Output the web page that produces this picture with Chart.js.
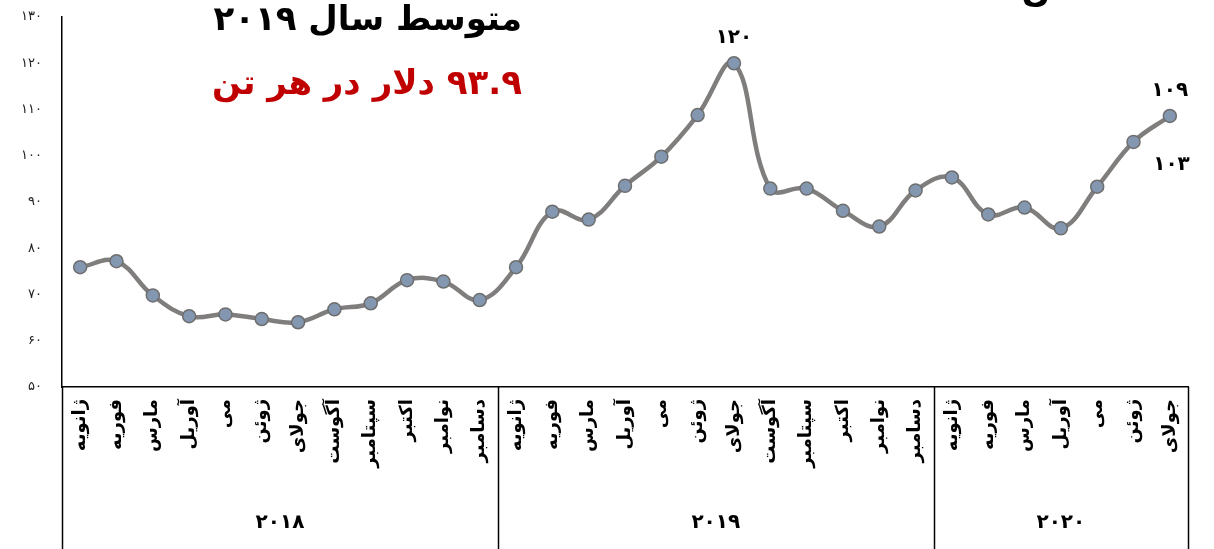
<!DOCTYPE html>
<html>
<head>
<meta charset="utf-8">
<script src="https://cdn.jsdelivr.net/npm/chart.js@4"></script>
<style>
  body { margin: 0; background: #fff; }
  #wrap { width: 1214px; height: 549px; position: relative; }
</style>
</head>
<body>
<div id="wrap"><canvas id="priceChart"></canvas></div>
<script>
// monthly average price, $ per tonne (Jan 2018 .. Jul 2020)
const months = ["ژانویه", "فوریه", "مارس", "آوریل", "می", "ژوئن", "جولای", "آگوست", "سپتامبر", "اکتبر", "نوامبر", "دسامبر"];
const years = ["۲۰۱۸", "۲۰۱۹", "۲۰۲۰"];
const monthsPerYear = [12, 12, 7];
const prices2018 = [75.9, 77.2, 69.8, 65.3, 65.7, 64.7, 64.0, 66.8, 68.1, 73.1, 72.8, 68.8];
const prices2019 = [75.9, 87.9, 86.2, 93.5, 99.8, 108.8, 120, 92.9, 92.9, 88.1, 84.7, 92.5];
const prices2020 = [95.3, 87.3, 88.8, 84.3, 93.3, 103, 108.6];
const yMin = 50, yMax = 130, yStep = 10;
const pointNotes = [[18, "۱۲۰"], [30, "۱۰۹"], [29, "۱۰۳"]];
const titleLine1 = "متوسط سال ۲۰۱۹";
const titleLine2 = "۹۳.۹ دلار در هر تن";

const faDigits = s => String(s).replace(/\d/g, d => "۰۱۲۳۴۵۶۷۸۹"[d]);
const FONT = "'DejaVu Sans', sans-serif";

const labels = [];
monthsPerYear.forEach(n => { for (let i = 0; i < n; i++) labels.push(months[i]); });
const prices = prices2018.concat(prices2019, prices2020);

// year groups, separators, titles, point labels
const extras = {
  id: "extras",
  afterDraw(chart) {
    const ctx = chart.ctx;
    const x = chart.scales.x;
    const area = chart.chartArea;
    const H = chart.height;
    ctx.save();

    // group separators below the axis
    const bounds = [area.left];
    let idx = 0;
    monthsPerYear.forEach((n, k) => {
      idx += n;
      if (k < monthsPerYear.length - 1) {
        bounds.push((x.getPixelForValue(idx - 1) + x.getPixelForValue(idx)) / 2);
      }
    });
    bounds.push(area.right);
    ctx.strokeStyle = "#000";
    ctx.lineWidth = 1.5;
    bounds.forEach(b => {
      ctx.beginPath();
      ctx.moveTo(Math.round(b) + 0.5, area.bottom);
      ctx.lineTo(Math.round(b) + 0.5, H);
      ctx.stroke();
    });

    ctx.fillStyle = "#000";
    ctx.font = "bold 20px " + FONT;
    ctx.textAlign = "center";
    ctx.textBaseline = "middle";
    years.forEach((yr, k) => {
      ctx.fillText(yr, (bounds[k] + bounds[k + 1]) / 2, area.bottom + 136);
    });

    // value notes
    const pts = chart.getDatasetMeta(0).data;
    ctx.font = "bold 20px " + FONT;
    pointNotes.forEach(([i, txt]) => {
      const p = pts[i];
      if (i === 29) {
        ctx.fillText(txt, p.x + 38, p.y + 23);
      } else {
        ctx.fillText(txt, p.x, p.y - 25);
      }
    });

    // headline
    ctx.direction = "rtl";
    ctx.textAlign = "right";
    ctx.font = "bold 34px " + FONT;
    ctx.fillStyle = "#000";
    ctx.fillText(titleLine1, 522, 21);
    ctx.fillStyle = "#C00000";
    ctx.fillText(titleLine2, 522, 85);

    // clipped piece of the outer heading
    ctx.fillStyle = "#000";
    ctx.textAlign = "center";
    ctx.fillText("ن", 1036, -8);
    ctx.restore();
  }
};

new Chart(document.getElementById("priceChart"), {
  type: "line",
  data: {
    labels: labels,
    datasets: [{
      data: prices,
      borderColor: "#807D7D",
      borderWidth: 4.5,
      tension: 0.4,
      pointRadius: 6.5,
      pointBackgroundColor: "#8497B0",
      pointBorderColor: "#6E6E6E",
      pointBorderWidth: 1.5,
      clip: false
    }]
  },
  options: {
    responsive: true,
    maintainAspectRatio: false,
    animation: false,
    layout: { padding: { top: 17, right: 26, left: 0, bottom: 0 } },
    plugins: { legend: { display: false }, tooltip: { enabled: false } },
    scales: {
      x: {
        offset: true,
        grid: { display: false },
        border: { color: "#000", width: 1.5 },
        ticks: {
          autoSkip: false,
          minRotation: 90,
          maxRotation: 90,
          padding: 4,
          color: "#000",
          font: { family: FONT, size: 18, weight: "bold" }
        },
        afterFit(scale) { scale.height = 162; }
      },
      y: {
        min: yMin,
        max: yMax,
        grid: { display: false },
        border: { color: "#000", width: 1.5 },
        ticks: {
          stepSize: yStep,
          padding: 12,
          color: "#222",
          font: { family: FONT, size: 13 },
          callback: v => faDigits(v)
        },
        afterFit(scale) {
          scale.width = 62;
          scale.paddingTop = 0;
          scale.paddingBottom = 0;
        }
      }
    }
  },
  plugins: [extras]
});
</script>
</body>
</html>
